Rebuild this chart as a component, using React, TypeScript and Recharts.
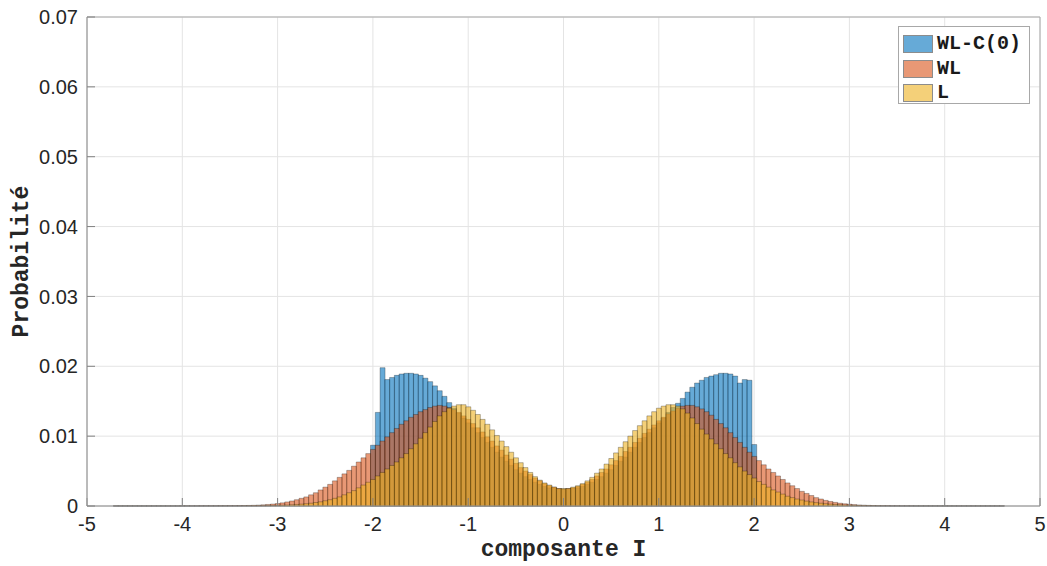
import React from 'react';
import { BarChart, Bar, XAxis, YAxis, CartesianGrid, Legend, ReferenceArea, Label } from 'recharts';

// Histogram bins: centres from -4.70 to 4.60, width 0.05
const BIN_START = -4.7;
const BIN_WIDTH = 0.05;

const SERIES_NAMES = ['WL-C(0)', 'WL', 'L'];

// WL-C(0)  (rows of 10 bins, first row starts at -4.70)
const WLC_VALUES = [
  0, 0, 0, 0, 0, 0, 0, 0, 0, 0,
  0, 0, 0, 0, 0, 0, 0, 0, 0, 0,
  0, 0, 0, 0, 0, 0, 0, 0, 0, 0,
  0, 0, 0, 0, 0, 0, 0, 0, 0, 0,
  0, 0, 0, 0, 0, 0, 0, 0, 0, 0,
  0, 0, 0, 0, 0.0087, 0.0134, 0.0198, 0.0181, 0.0184, 0.0187,
  0.0189, 0.019, 0.019, 0.0189, 0.0187, 0.0183, 0.0178, 0.0172, 0.0165, 0.0157,
  0.0148, 0.014, 0.0133, 0.0126, 0.0119, 0.0112, 0.0105, 0.0098, 0.0091, 0.0084,
  0.0077, 0.007, 0.0064, 0.0058, 0.0052, 0.0047, 0.0042, 0.0038, 0.0034, 0.0031,
  0.0028, 0.0026, 0.0025, 0.0024, 0.0024, 0.0024, 0.0025, 0.0026, 0.0028, 0.0031,
  0.0034, 0.0038, 0.0042, 0.0047, 0.0052, 0.0058, 0.0064, 0.007, 0.0077, 0.0084,
  0.0091, 0.0098, 0.0105, 0.0112, 0.0119, 0.0126, 0.0134, 0.0141, 0.0147, 0.0154,
  0.0163, 0.017, 0.0176, 0.018, 0.0184, 0.0186, 0.0188, 0.019, 0.019, 0.0189,
  0.0186, 0.0176, 0.0181, 0.018, 0.0088, 0, 0, 0, 0, 0,
  0, 0, 0, 0, 0, 0, 0, 0, 0, 0,
  0, 0, 0, 0, 0, 0, 0, 0, 0, 0,
  0, 0, 0, 0, 0, 0, 0, 0, 0, 0,
  0, 0, 0, 0, 0, 0, 0, 0, 0, 0,
  0, 0, 0, 0, 0, 0, 0,
];

// WL
const WL_VALUES = [
  0.00001, 0.00001, 0.00001, 0.00001, 0.00001, 0.00001, 0.00001, 0.00001, 0.00001, 0.00001,
  0.00001, 0.00001, 0.00001, 0.00001, 0.00002, 0.00002, 0.00002, 0.00002, 0.00003, 0.00003,
  0.00003, 0.00003, 0.00004, 0.00004, 0.00005, 0.00005, 0.00006, 0.00007, 0.00008, 0.0001,
  0.00013, 0.00017, 0.00022, 0.00028, 0.00035, 0.00045, 0.00058, 0.00072, 0.0009, 0.0011,
  0.0013, 0.0016, 0.0019, 0.0023, 0.0027, 0.0031, 0.0036, 0.0041, 0.0046, 0.0051,
  0.0057, 0.0063, 0.0069, 0.0075, 0.0081, 0.0087, 0.0093, 0.0099, 0.0105, 0.0111,
  0.0117, 0.0122, 0.0127, 0.0131, 0.0135, 0.0138, 0.0141, 0.0143, 0.0144, 0.0143,
  0.0141, 0.0138, 0.0134, 0.0129, 0.0124, 0.0118, 0.0112, 0.0106, 0.0099, 0.0093,
  0.0086, 0.008, 0.0073, 0.0067, 0.0061, 0.0055, 0.005, 0.0045, 0.004, 0.0036,
  0.0032, 0.0029, 0.0027, 0.0025, 0.0024, 0.0025, 0.0026, 0.0028, 0.0031, 0.0034,
  0.0038, 0.0043, 0.0048, 0.0053, 0.0059, 0.0065, 0.0071, 0.0078, 0.0084, 0.0091,
  0.0097, 0.0104, 0.011, 0.0116, 0.0122, 0.0127, 0.0132, 0.0136, 0.014, 0.0143,
  0.0144, 0.0144, 0.0142, 0.0139, 0.0135, 0.013, 0.0124, 0.0118, 0.0112, 0.0105,
  0.0098, 0.0091, 0.0084, 0.0077, 0.0071, 0.0065, 0.0059, 0.0053, 0.0048, 0.0043,
  0.0038, 0.0033, 0.0029, 0.0025, 0.0021, 0.0018, 0.0015, 0.0012, 0.001, 0.0008,
  0.00065, 0.00052, 0.0004, 0.00032, 0.00025, 0.0002, 0.00015, 0.00012, 0.00009, 0.00007,
  0.00005, 0.00004, 0.00004, 0.00003, 0.00003, 0.00002, 0.00002, 0.00002, 0.00001, 0.00001,
  0.00001, 0.00001, 0.00001, 0.00001, 0.00001, 0.00001, 0.00001, 0.00001, 0.00001, 0.00001,
  0.00001, 0.00001, 0.00001, 0.00001, 0.00001, 0.00001, 0.00001,
];

// L
const L_VALUES = [
  0.00001, 0.00001, 0.00001, 0.00001, 0.00001, 0.00001, 0.00001, 0.00001, 0.00001, 0.00001,
  0.00001, 0.00001, 0.00001, 0.00001, 0.00001, 0.00001, 0.00001, 0.00001, 0.00001, 0.00001,
  0.00001, 0.00001, 0.00001, 0.00001, 0.00001, 0.00001, 0.00001, 0.00002, 0.00002, 0.00002,
  0.00003, 0.00004, 0.00005, 0.00007, 0.00009, 0.00011, 0.00014, 0.00018, 0.00022, 0.00027,
  0.00033, 0.0004, 0.0005, 0.0006, 0.00075, 0.0009, 0.0011, 0.0013, 0.0016, 0.0019,
  0.0022, 0.0026, 0.003, 0.0034, 0.0038, 0.0043, 0.0048, 0.0053, 0.0058, 0.0063,
  0.0069, 0.0075, 0.0082, 0.0089, 0.0097, 0.0105, 0.0113, 0.0121, 0.0129, 0.0135,
  0.014, 0.0143, 0.0145, 0.0145, 0.0142, 0.0137, 0.0131, 0.0124, 0.0117, 0.0109,
  0.0101, 0.0093, 0.0085, 0.0077, 0.0069, 0.0062, 0.0055, 0.0048, 0.0042, 0.0037,
  0.0033, 0.003, 0.0027, 0.0025, 0.0025, 0.0025, 0.0027, 0.0029, 0.0032, 0.0036,
  0.0041, 0.0047, 0.0053, 0.006, 0.0068, 0.0076, 0.0084, 0.0092, 0.01, 0.0108,
  0.0115, 0.0122, 0.0129, 0.0135, 0.014, 0.0143, 0.0145, 0.0145, 0.0143, 0.0139,
  0.0133, 0.0126, 0.0118, 0.011, 0.0103, 0.0096, 0.0089, 0.0082, 0.0075, 0.0069,
  0.0062, 0.0056, 0.005, 0.0045, 0.004, 0.0035, 0.0031, 0.0027, 0.0023, 0.002,
  0.0017, 0.0014, 0.0012, 0.001, 0.00085, 0.0007, 0.00058, 0.00048, 0.0004, 0.00033,
  0.00027, 0.00022, 0.00018, 0.00014, 0.00011, 0.00009, 0.00007, 0.00005, 0.00004, 0.00003,
  0.00002, 0.00002, 0.00002, 0.00001, 0.00001, 0.00001, 0.00001, 0.00001, 0.00001, 0.00001,
  0.00001, 0.00001, 0.00001, 0.00001, 0.00001, 0.00001, 0.00001, 0.00001, 0.00001, 0.00001,
  0.00001, 0.00001, 0.00001, 0.00001, 0.00001, 0.00001, 0.00001,
];

const X_TICKS = [-5, -4, -3, -2, -1, 0, 1, 2, 3, 4, 5];
const Y_TICKS = [0, 0.01, 0.02, 0.03, 0.04, 0.05, 0.06, 0.07];

const data = WLC_VALUES.map((v, i) => ({
  x: Number((BIN_START + i * BIN_WIDTH).toFixed(2)),
  wlc: v,
  wl: WL_VALUES[i],
  l: L_VALUES[i],
}));

const FACE = ['#0072BD', '#D95319', '#EDB120'];
const SWATCH = ['#66aad7', '#e89875', '#f4d079'];
const ALPHA = 0.6;

const TICK_STYLE = { fill: '#262626', fontSize: 20, fontFamily: '"Liberation Sans", Arial, sans-serif' };
const TITLE_FONT = '"Liberation Mono", "Courier New", monospace';
const GRID = '#e4e4e4';
const BOX = '#a8a8a8';

const renderLegend = () => (
  <div
    style={{
      boxSizing: 'border-box',
      width: 132,
      height: 78,
      border: `1px solid ${BOX}`,
      background: '#fff',
      padding: '5px 0 0 4px',
    }}
  >
    {SERIES_NAMES.map((name, i) => (
      <div key={name} style={{ display: 'flex', alignItems: 'center', height: 24.5 }}>
        <div
          style={{
            boxSizing: 'border-box',
            width: 30,
            height: 18,
            background: SWATCH[i],
            border: '1px solid #8c8c8c',
          }}
        />
        <span
          style={{
            marginLeft: 4,
            fontFamily: TITLE_FONT,
            fontWeight: 'bold',
            fontSize: 20,
            color: '#1a1a1a',
            lineHeight: '20px',
          }}
        >
          {name}
        </span>
      </div>
    ))}
  </div>
);

const XTitle = (props: any) => {
  const vb = props.viewBox || { x: 0, y: 0, width: 0, height: 0 };
  return (
    <text
      x={vb.x + vb.width / 2}
      y={vb.y + 50}
      textAnchor="middle"
      fontFamily={TITLE_FONT}
      fontWeight="bold"
      fontSize={23}
      fill="#262626"
    >
      composante I
    </text>
  );
};

const YTitle = (props: any) => {
  const vb = props.viewBox || { x: 0, y: 0, width: 0, height: 0 };
  const cx = vb.x + 22;
  const cy = vb.y + vb.height / 2;
  return (
    <text
      x={cx}
      y={cy}
      transform={`rotate(-90, ${cx}, ${cy})`}
      textAnchor="middle"
      dominantBaseline="central"
      fontFamily={TITLE_FONT}
      fontWeight="bold"
      fontSize={23}
      fill="#262626"
    >
      Probabilité
    </text>
  );
};

export default function App() {
  return (
    <div style={{ position: 'absolute', left: 0, top: 0, background: '#fff' }}>
      <BarChart
        width={1047}
        height={566}
        data={data}
        margin={{ top: 17, right: 7, bottom: 0, left: 0 }}
        barCategoryGap={0}
        barGap={0}
      >
        <CartesianGrid stroke={GRID} strokeWidth={1} />
        <XAxis
          dataKey="x"
          type="number"
          domain={[-5, 5]}
          ticks={X_TICKS}
          allowDataOverflow
          height={60}
          tickLine={{ stroke: '#808080' }}
          tickSize={-8}
          tickMargin={19}
          axisLine={{ stroke: BOX }}
          tick={TICK_STYLE}
        >
          <Label content={<XTitle />} />
        </XAxis>
        <XAxis xAxisId="b" dataKey="x" type="number" domain={[-5, 5]} allowDataOverflow hide />
        <XAxis xAxisId="c" dataKey="x" type="number" domain={[-5, 5]} allowDataOverflow hide />
        <YAxis
          type="number"
          domain={[0, 0.07]}
          ticks={Y_TICKS}
          width={87}
          tickLine={{ stroke: '#808080' }}
          tickSize={-8}
          tickMargin={17}
          axisLine={{ stroke: BOX }}
          tick={TICK_STYLE}
          tickFormatter={(v: number) => (v === 0 ? '0' : v.toFixed(2))}
        >
          <Label content={<YTitle />} />
        </YAxis>
        <Bar
          dataKey="wlc"
          name={SERIES_NAMES[0]}
          fill={FACE[0]}
          fillOpacity={ALPHA}
          stroke="#000"
          strokeOpacity={0.45}
          strokeWidth={0.6}
          isAnimationActive={false}
        />
        <Bar
          xAxisId="b"
          dataKey="wl"
          name={SERIES_NAMES[1]}
          fill={FACE[1]}
          fillOpacity={ALPHA}
          stroke="#000"
          strokeOpacity={0.45}
          strokeWidth={0.6}
          isAnimationActive={false}
        />
        <Bar
          xAxisId="c"
          dataKey="l"
          name={SERIES_NAMES[2]}
          fill={FACE[2]}
          fillOpacity={ALPHA}
          stroke="#000"
          strokeOpacity={0.45}
          strokeWidth={0.6}
          isAnimationActive={false}
        />
        <ReferenceArea x1={-5} x2={5} y1={0} y2={0.07} fill="none" stroke={BOX} strokeOpacity={1} ifOverflow="visible" />
        <Legend
          layout="vertical"
          align="center"
          verticalAlign="middle"
          content={renderLegend}
          wrapperStyle={{ top: 26, left: 898, width: 132, height: 78 }}
        />
      </BarChart>
    </div>
  );
}
